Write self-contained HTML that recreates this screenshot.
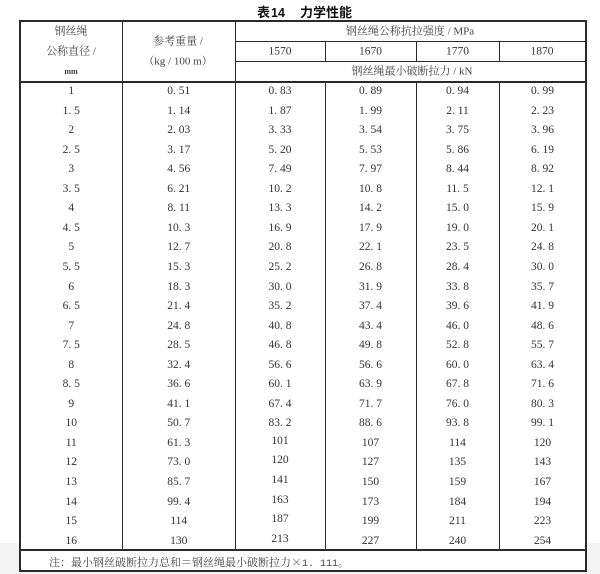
<!DOCTYPE html>
<html><head><meta charset="utf-8"><style>
html,body{margin:0;padding:0;}
body{width:600px;height:574px;position:relative;overflow:hidden;background:#fff;font-family:"Liberation Serif","Noto Serif CJK SC",serif;}
.band{position:absolute;left:0;top:543px;width:600px;height:31px;background:#f3f3f3;}
.tbl{position:absolute;left:20px;top:20px;width:566px;height:551px;background:#fff;}
.l{position:absolute;background:#2a2a2a;}
.c{position:absolute;transform:translate(-50%,-50%);white-space:nowrap;line-height:1;}
.cn{font-family:"Liberation Serif","Noto Serif CJK SC",serif;font-size:11px;color:#444;}
.num{font-family:"Liberation Serif",serif;font-size:11.5px;color:#333;}
.row{position:absolute;left:20px;height:19.55px;display:flex;font-family:"Liberation Serif",serif;font-size:11.5px;color:#333;line-height:19.55px;}
.row div{text-align:center;}
.w0{width:102.5px}.w1{width:112.5px}.w2{width:90px}.w3{width:91px}.w4{width:83px}.w5{width:87px}
.up{position:relative;top:-2px;}
.title{position:absolute;top:4px;font-family:"Noto Sans CJK SC","WenQuanYi Zen Hei",sans-serif;font-weight:bold;font-size:13px;line-height:16px;color:#111;white-space:nowrap;}
</style></head><body>
<div class="band"></div>
<div class="tbl"></div>

<div class="title" style="left:257px;">表<span style="font-family:'Liberation Sans',sans-serif;font-size:12.5px;margin-left:1px;">14</span></div>
<div class="title" style="left:300px;">力学性能</div>

<!-- lines -->
<div class="l" style="left:19px;top:20px;width:2px;height:552px;"></div>
<div class="l" style="left:585px;top:20px;width:2px;height:552px;"></div>
<div class="l" style="left:19px;top:20px;width:568px;height:1.6px;"></div>
<div class="l" style="left:19px;top:570px;width:568px;height:2px;"></div>
<div class="l" style="left:122px;top:20px;width:1.4px;height:530px;"></div>
<div class="l" style="left:234.5px;top:20px;width:1.4px;height:530px;"></div>
<div class="l" style="left:235px;top:40.8px;width:351px;height:1.5px;"></div>
<div class="l" style="left:235px;top:60.8px;width:351px;height:1.5px;"></div>
<div class="l" style="left:19px;top:81.2px;width:568px;height:1.6px;"></div>
<div class="l" style="left:19px;top:549px;width:568px;height:1.6px;"></div>
<div class="l" style="left:324.5px;top:41px;width:1.4px;height:20px;"></div>
<div class="l" style="left:415.5px;top:41px;width:1.4px;height:20px;"></div>
<div class="l" style="left:498.5px;top:41px;width:1.4px;height:20px;"></div>
<div class="l" style="left:324.5px;top:82px;width:1.4px;height:468px;"></div>
<div class="l" style="left:415.5px;top:82px;width:1.4px;height:468px;"></div>
<div class="l" style="left:498.5px;top:82px;width:1.4px;height:468px;"></div>

<!-- header text -->
<div class="c cn" style="left:71px;top:32px;">钢丝绳</div>
<div class="c cn" style="left:71px;top:52px;">公称直径 /</div>
<div class="c cn" style="left:71px;top:72px;font-size:8px;font-weight:bold;">mm</div>
<div class="c cn" style="left:178px;top:42px;">参考重量 /</div>
<div class="c cn" style="left:178px;top:62px;">（kg / 100 m）</div>
<div class="c cn" style="left:410px;top:31.5px;">钢丝绳公称抗拉强度 / MPa</div>
<div class="c num" style="left:280px;top:51.5px;">1570</div>
<div class="c num" style="left:370.5px;top:51.5px;">1670</div>
<div class="c num" style="left:457.5px;top:51.5px;">1770</div>
<div class="c num" style="left:542px;top:51.5px;">1870</div>
<div class="c cn" style="left:412px;top:71.5px;">钢丝绳最小破断拉力 / kN</div>

<!-- data rows -->
<div class="row" style="top:82px;"><div class="w0">1</div><div class="w1">0. 51</div><div class="w2">0. 83</div><div class="w3">0. 89</div><div class="w4">0. 94</div><div class="w5">0. 99</div></div>
<div class="row" style="top:101.55px;"><div class="w0">1. 5</div><div class="w1">1. 14</div><div class="w2">1. 87</div><div class="w3">1. 99</div><div class="w4">2. 11</div><div class="w5">2. 23</div></div>
<div class="row" style="top:121.1px;"><div class="w0">2</div><div class="w1">2. 03</div><div class="w2">3. 33</div><div class="w3">3. 54</div><div class="w4">3. 75</div><div class="w5">3. 96</div></div>
<div class="row" style="top:140.65px;"><div class="w0">2. 5</div><div class="w1">3. 17</div><div class="w2">5. 20</div><div class="w3">5. 53</div><div class="w4">5. 86</div><div class="w5">6. 19</div></div>
<div class="row" style="top:160.2px;"><div class="w0">3</div><div class="w1">4. 56</div><div class="w2">7. 49</div><div class="w3">7. 97</div><div class="w4">8. 44</div><div class="w5">8. 92</div></div>
<div class="row" style="top:179.75px;"><div class="w0">3. 5</div><div class="w1">6. 21</div><div class="w2">10. 2</div><div class="w3">10. 8</div><div class="w4">11. 5</div><div class="w5">12. 1</div></div>
<div class="row" style="top:199.3px;"><div class="w0">4</div><div class="w1">8. 11</div><div class="w2">13. 3</div><div class="w3">14. 2</div><div class="w4">15. 0</div><div class="w5">15. 9</div></div>
<div class="row" style="top:218.85px;"><div class="w0">4. 5</div><div class="w1">10. 3</div><div class="w2">16. 9</div><div class="w3">17. 9</div><div class="w4">19. 0</div><div class="w5">20. 1</div></div>
<div class="row" style="top:238.4px;"><div class="w0">5</div><div class="w1">12. 7</div><div class="w2">20. 8</div><div class="w3">22. 1</div><div class="w4">23. 5</div><div class="w5">24. 8</div></div>
<div class="row" style="top:257.95px;"><div class="w0">5. 5</div><div class="w1">15. 3</div><div class="w2">25. 2</div><div class="w3">26. 8</div><div class="w4">28. 4</div><div class="w5">30. 0</div></div>
<div class="row" style="top:277.5px;"><div class="w0">6</div><div class="w1">18. 3</div><div class="w2">30. 0</div><div class="w3">31. 9</div><div class="w4">33. 8</div><div class="w5">35. 7</div></div>
<div class="row" style="top:297.05px;"><div class="w0">6. 5</div><div class="w1">21. 4</div><div class="w2">35. 2</div><div class="w3">37. 4</div><div class="w4">39. 6</div><div class="w5">41. 9</div></div>
<div class="row" style="top:316.6px;"><div class="w0">7</div><div class="w1">24. 8</div><div class="w2">40. 8</div><div class="w3">43. 4</div><div class="w4">46. 0</div><div class="w5">48. 6</div></div>
<div class="row" style="top:336.15px;"><div class="w0">7. 5</div><div class="w1">28. 5</div><div class="w2">46. 8</div><div class="w3">49. 8</div><div class="w4">52. 8</div><div class="w5">55. 7</div></div>
<div class="row" style="top:355.7px;"><div class="w0">8</div><div class="w1">32. 4</div><div class="w2">56. 6</div><div class="w3">56. 6</div><div class="w4">60. 0</div><div class="w5">63. 4</div></div>
<div class="row" style="top:375.25px;"><div class="w0">8. 5</div><div class="w1">36. 6</div><div class="w2">60. 1</div><div class="w3">63. 9</div><div class="w4">67. 8</div><div class="w5">71. 6</div></div>
<div class="row" style="top:394.8px;"><div class="w0">9</div><div class="w1">41. 1</div><div class="w2">67. 4</div><div class="w3">71. 7</div><div class="w4">76. 0</div><div class="w5">80. 3</div></div>
<div class="row" style="top:414.35px;"><div class="w0">10</div><div class="w1">50. 7</div><div class="w2">83. 2</div><div class="w3">88. 6</div><div class="w4">93. 8</div><div class="w5">99. 1</div></div>
<div class="row" style="top:433.9px;"><div class="w0">11</div><div class="w1">61. 3</div><div class="w2"><span class="up">101</span></div><div class="w3">107</div><div class="w4">114</div><div class="w5">120</div></div>
<div class="row" style="top:453.45px;"><div class="w0">12</div><div class="w1">73. 0</div><div class="w2"><span class="up">120</span></div><div class="w3">127</div><div class="w4">135</div><div class="w5">143</div></div>
<div class="row" style="top:473px;"><div class="w0">13</div><div class="w1">85. 7</div><div class="w2"><span class="up">141</span></div><div class="w3">150</div><div class="w4">159</div><div class="w5">167</div></div>
<div class="row" style="top:492.55px;"><div class="w0">14</div><div class="w1">99. 4</div><div class="w2"><span class="up">163</span></div><div class="w3">173</div><div class="w4">184</div><div class="w5">194</div></div>
<div class="row" style="top:512.1px;"><div class="w0">15</div><div class="w1">114</div><div class="w2"><span class="up">187</span></div><div class="w3">199</div><div class="w4">211</div><div class="w5">223</div></div>
<div class="row" style="top:531.65px;"><div class="w0">16</div><div class="w1">130</div><div class="w2"><span class="up">213</span></div><div class="w3">227</div><div class="w4">240</div><div class="w5">254</div></div>

<!-- note -->
<div class="cn" style="position:absolute;left:49px;top:555px;line-height:14px;white-space:nowrap;">注：最小钢丝破断拉力总和＝钢丝绳最小破断拉力<span style="font-family:'Noto Serif CJK SC',serif;">×</span><span style="font-family:'Liberation Mono',monospace;font-size:10px;">1. 111</span>。</div>
</body></html>
